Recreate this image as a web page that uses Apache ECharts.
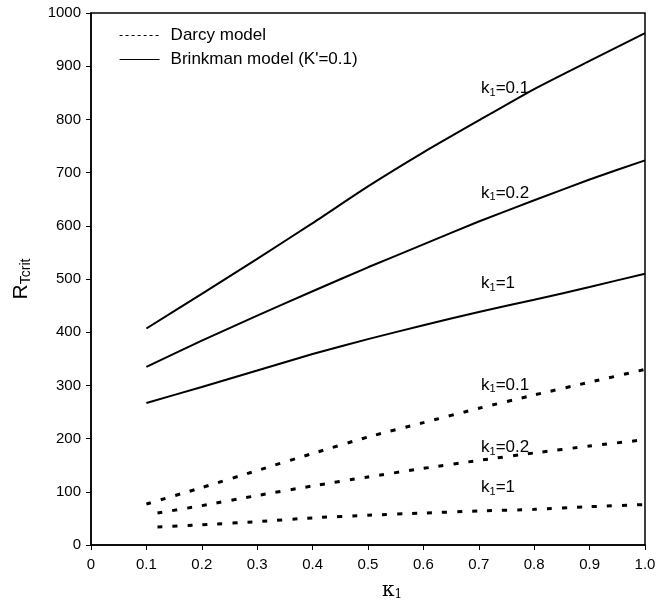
<!DOCTYPE html>
<html>
<head>
<meta charset="utf-8">
<script src="https://cdn.jsdelivr.net/npm/echarts@6/dist/echarts.min.js"></script>
<style>
  html, body { margin: 0; padding: 0; background: #fff; }
  #chart { width: 665px; height: 606px; }
</style>
</head>
<body>
<div id="chart"></div>
<script>
// kappa_1 values
const kappa = [0.1, 0.2, 0.3, 0.4, 0.5, 0.6, 0.7, 0.8, 0.9, 1.0];
const kappaDarcy = [0.12, 0.2, 0.3, 0.4, 0.5, 0.6, 0.7, 0.8, 0.9, 1.0];

// Brinkman model (K'=0.1)
const brinkK01 = [407, 472, 538, 605, 674, 738, 798, 857, 910, 962];
const brinkK02 = [335, 384, 431, 477, 522, 565, 608, 648, 687, 723];
const brinkK1 = [267, 297, 328, 359, 387, 413, 438, 461, 485, 510];

// Darcy model
const darcyK01 = [77, 108, 140, 172, 203, 230, 257, 282, 306, 330];
const darcyK02 = [60, 74, 93, 111, 128, 144, 159, 173, 186, 198];
const darcyK1 = [34, 38, 44, 51, 56, 60, 64, 67, 72, 76];

// curve labels [x, y, k1 text]
const curveLabels = [
  [0.704, 858, '0.1'],
  [0.704, 662, '0.2'],
  [0.704, 492, '1'],
  [0.704, 301, '0.1'],
  [0.704, 183, '0.2'],
  [0.704, 108, '1']
];

const DARCY = 'Darcy model';
const BRINK = "Brinkman model (K'=0.1)";

function pairs(xs, ys) {
  return ys.map((y, i) => [xs[i], y]);
}

function brinkSeries(data) {
  return {
    name: BRINK,
    type: 'line',
    symbol: 'none',
    smooth: 0.2,
    lineStyle: { color: '#000', width: 2 },
    data: pairs(kappa, data)
  };
}

function darcySeries(xs, data) {
  return {
    name: DARCY,
    type: 'line',
    symbol: 'none',
    smooth: 0.2,
    lineStyle: { color: '#000', width: 3, type: [5, 10] },
    data: pairs(xs, data)
  };
}

const chart = echarts.init(document.getElementById('chart'), null, { renderer: 'canvas' });

chart.setOption({
  backgroundColor: '#fff',
  animation: false,
  textStyle: { fontFamily: 'Liberation Sans, Arial, sans-serif', color: '#000' },
  grid: {
    left: 91, right: 20, top: 13, bottom: 58,
    show: true, borderColor: '#000', borderWidth: 1.5
  },
  legend: {
    orient: 'vertical',
    left: 114, top: 22,
    itemWidth: 40, itemHeight: 10, itemGap: 7,
    textStyle: { fontSize: 17, color: '#000', padding: [0, 0, 0, 6] },
    itemStyle: { opacity: 0 },
    data: [
      { name: DARCY, itemStyle: { opacity: 0 }, lineStyle: { width: 1, type: [3, 3], color: '#000' } },
      { name: BRINK, itemStyle: { opacity: 0 }, lineStyle: { width: 1.2, color: '#000' } }
    ]
  },
  xAxis: {
    type: 'value',
    min: 0, max: 1, interval: 0.1,
    name: '{k|κ}{s|1}',
    nameLocation: 'middle',
    nameGap: 36,
    nameTextStyle: {
      padding: [0, 0, 0, 48],
      rich: {
        k: { fontFamily: 'DejaVu Serif, serif', fontSize: 20, color: '#000' },
        s: { fontFamily: 'DejaVu Serif, serif', fontSize: 12, color: '#000', padding: [8, 0, 0, 0] }
      }
    },
    axisLine: { lineStyle: { color: '#000', width: 1.5 } },
    axisTick: { length: 5, lineStyle: { color: '#000' } },
    axisLabel: {
      fontSize: 15, color: '#000', margin: 12,
      formatter: v => (v === 0 ? '0' : v.toFixed(1))
    },
    splitLine: { show: false }
  },
  yAxis: {
    type: 'value',
    min: 0, max: 1000, interval: 100,
    name: '{r|R}{s|Tcrit}',
    nameLocation: 'middle',
    nameRotate: 90,
    nameGap: 58,
    nameTextStyle: {
      rich: {
        r: { fontSize: 21, color: '#000' },
        s: { fontSize: 14, color: '#000', padding: [10, 0, 0, 0] }
      }
    },
    axisLine: { show: true, lineStyle: { color: '#000', width: 1.5 } },
    axisTick: { show: true, length: 5, lineStyle: { color: '#000' } },
    axisLabel: { fontSize: 15, color: '#000', margin: 10, formatter: v => String(v) },
    splitLine: { show: false }
  },
  series: [
    brinkSeries(brinkK01),
    brinkSeries(brinkK02),
    brinkSeries(brinkK1),
    darcySeries(kappa, darcyK01),
    darcySeries(kappaDarcy, darcyK02),
    darcySeries(kappaDarcy, darcyK1),
    {
      name: 'labels',
      type: 'scatter',
      symbolSize: 0,
      silent: true,
      itemStyle: { opacity: 1 },
      data: curveLabels,
      label: {
        show: true,
        position: 'right',
        distance: 0,
        color: '#000',
        formatter: p => '{a|k}{s|1}{a|=' + p.data[2] + '}',
        rich: {
          a: { fontSize: 17, color: '#000' },
          s: { fontSize: 11, color: '#000', padding: [9, 0, 0, 0] }
        }
      }
    }
  ]
});
</script>
</body>
</html>
